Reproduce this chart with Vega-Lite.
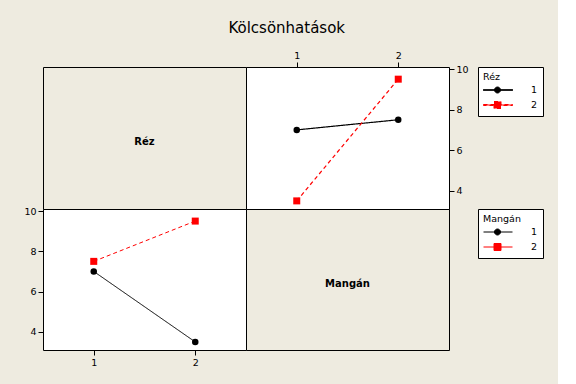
{
  "$schema": "https://vega.github.io/schema/vega-lite/v6.json",
  "background": "#EEEBE0",
  "padding": {"left": 23, "top": 20, "right": 14, "bottom": 18},
  "title": {"text": "Kölcsönhatások", "font": "DejaVu Sans", "fontSize": 15, "fontWeight": "normal", "color": "black", "anchor": "middle", "frame": "bounds", "offset": 14, "dx": 3},
  "columns": 2,
  "spacing": 0,
  "bounds": "flush",
  "resolve": {
    "scale": {"x": "independent", "y": "independent", "color": "independent", "fill": "independent", "stroke": "independent", "shape": "independent", "strokeDash": "independent"},
    "axis": {"x": "independent", "y": "independent"},
    "legend": {"color": "independent", "fill": "independent", "stroke": "independent", "shape": "independent"}
  },
  "concat": [
    {
      "width": 203,
      "height": 142,
      "view": {"stroke": "black", "fill": "#EEEBE0"},
      "data": {"values": [{"label": "Réz"}]},
      "mark": {"type": "text", "font": "DejaVu Sans", "fontSize": 10, "fontWeight": "bold", "color": "black", "dy": 4},
      "encoding": {
        "x": {"datum": 1.5, "type": "quantitative", "scale": {"domain": [1, 2]}, "axis": null},
        "y": {"datum": 0.5, "type": "quantitative", "scale": {"domain": [0, 1]}, "axis": null},
        "text": {"field": "label", "type": "nominal"}
      }
    },
    {
      "width": 203,
      "height": 142,
      "view": {"fill": "white", "stroke": "black"},
      "data": {"values": [
        {"mangan": 1, "rez": "1", "mean": 7.0},
        {"mangan": 2, "rez": "1", "mean": 7.5},
        {"mangan": 1, "rez": "2", "mean": 3.5},
        {"mangan": 2, "rez": "2", "mean": 9.5}
      ]},
      "encoding": {
        "x": {"field": "mangan", "type": "quantitative", "scale": {"domain": [0.5, 2.5], "nice": false, "zero": false}, "axis": {"orient": "top", "values": [1, 2], "format": "d"}},
        "y": {"field": "mean", "type": "quantitative", "scale": {"domain": [3.1, 10.1], "nice": false, "zero": false}, "axis": {"orient": "right", "values": [4, 6, 8, 10]}},
        "color": {"field": "rez", "type": "nominal", "scale": {"domain": ["1", "2"], "range": ["black", "red"]},
          "legend": {"title": "Réz", "orient": "right", "offset": 9}}
      },
      "layer": [
        {"mark": {"type": "line", "strokeWidth": 1.2},
         "encoding": {"strokeDash": {"field": "rez", "type": "nominal", "scale": {"domain": ["1", "2"], "range": [[1, 0], [4, 3]]}, "legend": null}}},
        {"transform": [{"filter": "datum.rez === '1'"}],
         "mark": {"type": "circle", "opacity": 1, "size": 42}},
        {"transform": [{"filter": "datum.rez === '2'"}],
         "mark": {"type": "square", "opacity": 1, "size": 49}},
        {"mark": {"type": "point", "filled": true, "opacity": 0, "size": 1},
         "encoding": {"shape": {"field": "rez", "type": "nominal", "scale": {"domain": ["1", "2"], "range": ["M-1,-0.1H4.8V0.1H-1ZM1.2,0A0.6,0.6,0,1,1,2.4,0A0.6,0.6,0,1,1,1.2,0Z", "M-1,-0.1H4.8V0.1H-1ZM1.1,-0.7H2.5V0.7H1.1Z"]}, "legend": null}}}
      ]
    },
    {
      "width": 203,
      "height": 141,
      "view": {"fill": "white", "stroke": "black"},
      "data": {"values": [
        {"rez": 1, "mangan": "1", "mean": 7.0},
        {"rez": 2, "mangan": "1", "mean": 3.5},
        {"rez": 1, "mangan": "2", "mean": 7.5},
        {"rez": 2, "mangan": "2", "mean": 9.5}
      ]},
      "encoding": {
        "x": {"field": "rez", "type": "quantitative", "scale": {"domain": [0.5, 2.5], "nice": false, "zero": false}, "axis": {"orient": "bottom", "values": [1, 2], "format": "d"}},
        "y": {"field": "mean", "type": "quantitative", "scale": {"domain": [3.1, 10.1], "nice": false, "zero": false}, "axis": {"orient": "left", "values": [4, 6, 8, 10]}}
      },
      "layer": [
        {"mark": {"type": "line", "strokeWidth": 1},
         "encoding": {
           "color": {"field": "mangan", "type": "nominal", "scale": {"domain": ["1", "2"], "range": ["black", "red"]}, "legend": null},
           "strokeDash": {"field": "mangan", "type": "nominal", "scale": {"domain": ["1", "2"], "range": [[1, 0], [4, 3]]}, "legend": null}}},
        {"transform": [{"filter": "datum.mangan === '1'"}],
         "mark": {"type": "circle", "opacity": 1, "size": 42, "color": "black"}},
        {"transform": [{"filter": "datum.mangan === '2'"}],
         "mark": {"type": "square", "opacity": 1, "size": 49, "color": "red"}}
      ]
    },
    {
      "width": 203,
      "height": 141,
      "view": {"stroke": "black", "fill": "#EEEBE0"},
      "encoding": {
        "x": {"datum": 1.5, "type": "quantitative", "scale": {"domain": [1, 2]}, "axis": null},
        "y": {"datum": 0.5, "type": "quantitative", "scale": {"domain": [0, 1]}, "axis": null}
      },
      "layer": [
        {
          "data": {"values": [{"label": "Mangán"}]},
          "mark": {"type": "text", "font": "DejaVu Sans", "fontSize": 10, "fontWeight": "bold", "color": "black", "dy": 4},
          "encoding": {"text": {"field": "label", "type": "nominal"}}
        },
        {
          "data": {"values": [{"mangan": "1"}, {"mangan": "2"}]},
          "mark": {"type": "point", "opacity": 0, "size": 1},
          "encoding": {
            "fill": {"field": "mangan", "type": "nominal", "scale": {"domain": ["1", "2"], "range": ["black", "red"]},
              "legend": {"title": "Mangán", "orient": "right", "offset": 29}},
            "stroke": {"field": "mangan", "type": "nominal", "scale": {"domain": ["1", "2"], "range": ["black", "red"]},
              "legend": {"title": "Mangán", "orient": "right", "offset": 29}},
            "shape": {"field": "mangan", "type": "nominal", "scale": {"domain": ["1", "2"], "range": ["M-1,0H4.8M1.2,0A0.6,0.6,0,1,1,2.4,0A0.6,0.6,0,1,1,1.2,0Z", "M-1,0H4.8M1.1,-0.7H2.5V0.7H1.1Z"]},
              "legend": {"title": "Mangán", "orient": "right", "offset": 29}}
          }
        }
      ]
    }
  ],
  "config": {
    "view": {"stroke": "black", "strokeWidth": 1},
    "axis": {"labelFont": "DejaVu Sans", "labelFontSize": 9.5, "labelColor": "black", "tickColor": "black", "tickSize": 5, "labelPadding": 2, "domain": false, "grid": false, "title": null},
    "legend": {"strokeColor": "black", "fillColor": "white", "padding": 5, "titleFont": "DejaVu Sans", "titleFontSize": 9.5, "titleFontWeight": "normal", "titleColor": "black", "titlePadding": 3, "titleAlign": "left", "titleAnchor": "start", "labelFont": "DejaVu Sans", "labelFontSize": 9.5, "labelColor": "black", "symbolSize": 100, "symbolStrokeWidth": 1, "labelOffset": 37, "rowPadding": 4, "symbolOpacity": 1}
  }
}
